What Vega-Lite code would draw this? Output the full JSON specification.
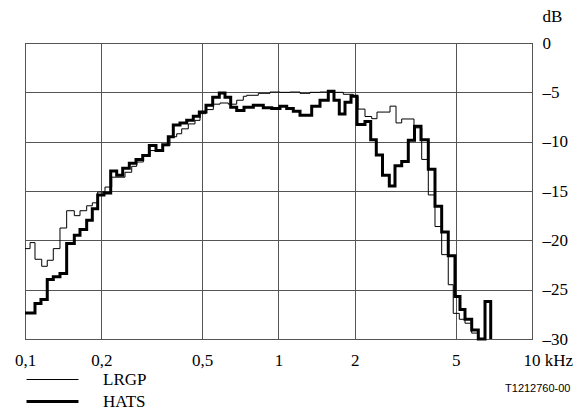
{
  "$schema": "https://vega.github.io/schema/vega-lite/v6.json",
  "width": 507,
  "height": 296,
  "autosize": "none",
  "padding": {"left": 25, "top": 43, "right": 41, "bottom": 75},
  "background": "white",
  "config": {
    "view": {"stroke": "black", "strokeWidth": 1},
    "font": "Liberation Serif, serif"
  },
  "data": {
    "values": [
      {"s": "LRGP", "f": 0.1, "db": -20.84},
      {"s": "LRGP", "f": 0.1047, "db": -20.23},
      {"s": "LRGP", "f": 0.1095, "db": -21.92},
      {"s": "LRGP", "f": 0.1164, "db": -22.63},
      {"s": "LRGP", "f": 0.1224, "db": -22.02},
      {"s": "LRGP", "f": 0.1293, "db": -20.84},
      {"s": "LRGP", "f": 0.1374, "db": -18.75},
      {"s": "LRGP", "f": 0.146, "db": -17.0},
      {"s": "LRGP", "f": 0.1565, "db": -17.5},
      {"s": "LRGP", "f": 0.1648, "db": -17.0},
      {"s": "LRGP", "f": 0.1751, "db": -16.5},
      {"s": "LRGP", "f": 0.1843, "db": -16.2},
      {"s": "LRGP", "f": 0.1935, "db": -15.1},
      {"s": "LRGP", "f": 0.2068, "db": -14.6},
      {"s": "LRGP", "f": 0.2198, "db": -13.6},
      {"s": "LRGP", "f": 0.248, "db": -13.1},
      {"s": "LRGP", "f": 0.2636, "db": -12.5},
      {"s": "LRGP", "f": 0.2758, "db": -12.06},
      {"s": "LRGP", "f": 0.2929, "db": -11.4},
      {"s": "LRGP", "f": 0.3112, "db": -10.9},
      {"s": "LRGP", "f": 0.3512, "db": -10.4},
      {"s": "LRGP", "f": 0.3732, "db": -9.5},
      {"s": "LRGP", "f": 0.3966, "db": -9.2},
      {"s": "LRGP", "f": 0.4151, "db": -8.7},
      {"s": "LRGP", "f": 0.4407, "db": -8.2},
      {"s": "LRGP", "f": 0.4684, "db": -7.84},
      {"s": "LRGP", "f": 0.4902, "db": -7.16},
      {"s": "LRGP", "f": 0.5176, "db": -6.75},
      {"s": "LRGP", "f": 0.5531, "db": -6.2},
      {"s": "LRGP", "f": 0.5879, "db": -6.08},
      {"s": "LRGP", "f": 0.6339, "db": -6.2},
      {"s": "LRGP", "f": 0.6841, "db": -5.8},
      {"s": "LRGP", "f": 0.7264, "db": -5.4},
      {"s": "LRGP", "f": 0.7492, "db": -5.3},
      {"s": "LRGP", "f": 0.8324, "db": -5.1},
      {"s": "LRGP", "f": 0.9256, "db": -4.97},
      {"s": "LRGP", "f": 1.0137, "db": -5.0},
      {"s": "LRGP", "f": 1.11, "db": -4.97},
      {"s": "LRGP", "f": 1.2157, "db": -5.1},
      {"s": "LRGP", "f": 1.3313, "db": -5.0},
      {"s": "LRGP", "f": 1.4578, "db": -4.97},
      {"s": "LRGP", "f": 1.5964, "db": -5.0},
      {"s": "LRGP", "f": 1.8013, "db": -5.2},
      {"s": "LRGP", "f": 1.9726, "db": -5.4},
      {"s": "LRGP", "f": 2.0587, "db": -6.7},
      {"s": "LRGP", "f": 2.1937, "db": -7.45},
      {"s": "LRGP", "f": 2.3311, "db": -7.67},
      {"s": "LRGP", "f": 2.4463, "db": -7.0},
      {"s": "LRGP", "f": 2.7538, "db": -6.4},
      {"s": "LRGP", "f": 2.9081, "db": -8.1},
      {"s": "LRGP", "f": 3.062, "db": -7.7},
      {"s": "LRGP", "f": 3.4235, "db": -8.6},
      {"s": "LRGP", "f": 3.6723, "db": -11.8},
      {"s": "LRGP", "f": 3.899, "db": -15.4},
      {"s": "LRGP", "f": 4.143, "db": -18.6},
      {"s": "LRGP", "f": 4.4025, "db": -21.45},
      {"s": "LRGP", "f": 4.6736, "db": -24.5},
      {"s": "LRGP", "f": 4.8904, "db": -27.4},
      {"s": "LRGP", "f": 5.167, "db": -28.0},
      {"s": "LRGP", "f": 5.441, "db": -28.4},
      {"s": "LRGP", "f": 5.783, "db": -29.4},
      {"s": "LRGP", "f": 6.14, "db": -30},
      {"s": "HATS", "f": 0.1, "db": -27.36},
      {"s": "HATS", "f": 0.1095, "db": -26.4},
      {"s": "HATS", "f": 0.1156, "db": -26.0},
      {"s": "HATS", "f": 0.1224, "db": -23.98},
      {"s": "HATS", "f": 0.1293, "db": -23.7},
      {"s": "HATS", "f": 0.1374, "db": -23.37},
      {"s": "HATS", "f": 0.146, "db": -20.33},
      {"s": "HATS", "f": 0.1565, "db": -19.49},
      {"s": "HATS", "f": 0.1648, "db": -18.9},
      {"s": "HATS", "f": 0.1751, "db": -17.97},
      {"s": "HATS", "f": 0.1843, "db": -16.8},
      {"s": "HATS", "f": 0.1935, "db": -15.4},
      {"s": "HATS", "f": 0.2049, "db": -15.2},
      {"s": "HATS", "f": 0.2178, "db": -12.97},
      {"s": "HATS", "f": 0.23, "db": -13.4},
      {"s": "HATS", "f": 0.2429, "db": -12.7},
      {"s": "HATS", "f": 0.2579, "db": -12.2},
      {"s": "HATS", "f": 0.2741, "db": -11.8},
      {"s": "HATS", "f": 0.2913, "db": -11.4},
      {"s": "HATS", "f": 0.3093, "db": -10.4},
      {"s": "HATS", "f": 0.3287, "db": -10.9},
      {"s": "HATS", "f": 0.3493, "db": -10.3},
      {"s": "HATS", "f": 0.3675, "db": -9.5},
      {"s": "HATS", "f": 0.3846, "db": -8.3},
      {"s": "HATS", "f": 0.4087, "db": -8.1},
      {"s": "HATS", "f": 0.4344, "db": -7.84},
      {"s": "HATS", "f": 0.4612, "db": -7.43},
      {"s": "HATS", "f": 0.4871, "db": -7.0},
      {"s": "HATS", "f": 0.5176, "db": -6.3},
      {"s": "HATS", "f": 0.5501, "db": -5.5},
      {"s": "HATS", "f": 0.584, "db": -5.07},
      {"s": "HATS", "f": 0.6151, "db": -5.5},
      {"s": "HATS", "f": 0.6478, "db": -6.5},
      {"s": "HATS", "f": 0.6841, "db": -6.85},
      {"s": "HATS", "f": 0.731, "db": -6.5},
      {"s": "HATS", "f": 0.7954, "db": -6.3},
      {"s": "HATS", "f": 0.8711, "db": -6.55},
      {"s": "HATS", "f": 0.9402, "db": -6.65},
      {"s": "HATS", "f": 1.0137, "db": -6.4},
      {"s": "HATS", "f": 1.0774, "db": -6.65},
      {"s": "HATS", "f": 1.144, "db": -6.92},
      {"s": "HATS", "f": 1.2157, "db": -7.33},
      {"s": "HATS", "f": 1.352, "db": -6.4},
      {"s": "HATS", "f": 1.4578, "db": -5.8},
      {"s": "HATS", "f": 1.5719, "db": -4.9},
      {"s": "HATS", "f": 1.6554, "db": -5.8},
      {"s": "HATS", "f": 1.737, "db": -7.2},
      {"s": "HATS", "f": 1.8297, "db": -6.0},
      {"s": "HATS", "f": 1.9322, "db": -5.4},
      {"s": "HATS", "f": 2.0404, "db": -8.25},
      {"s": "HATS", "f": 2.1937, "db": -7.95},
      {"s": "HATS", "f": 2.3106, "db": -9.8},
      {"s": "HATS", "f": 2.431, "db": -11.35},
      {"s": "HATS", "f": 2.5719, "db": -13.4},
      {"s": "HATS", "f": 2.7357, "db": -14.5},
      {"s": "HATS", "f": 2.881, "db": -12.45},
      {"s": "HATS", "f": 3.062, "db": -12.0},
      {"s": "HATS", "f": 3.251, "db": -9.86},
      {"s": "HATS", "f": 3.4393, "db": -8.45},
      {"s": "HATS", "f": 3.6484, "db": -9.8},
      {"s": "HATS", "f": 3.899, "db": -12.8},
      {"s": "HATS", "f": 4.143, "db": -16.55},
      {"s": "HATS", "f": 4.4025, "db": -19.15},
      {"s": "HATS", "f": 4.6736, "db": -21.55},
      {"s": "HATS", "f": 4.968, "db": -25.7},
      {"s": "HATS", "f": 5.199, "db": -27.0},
      {"s": "HATS", "f": 5.441, "db": -28.0},
      {"s": "HATS", "f": 5.783, "db": -29.1},
      {"s": "HATS", "f": 6.14, "db": -30},
      {"s": "HATS", "f": 6.526, "db": -26.2},
      {"s": "HATS", "f": 6.872, "db": -30}
    ]
  },
  "mark": {"type": "line", "interpolate": "step-after", "color": "black", "strokeJoin": "miter", "strokeCap": "butt"},
  "encoding": {
    "x": {
      "field": "f",
      "type": "quantitative",
      "scale": {"type": "log", "domain": [0.1, 10]},
      "axis": {
        "values": [0.1, 0.2, 0.5, 1, 2, 5, 10],
        "labelExpr": "datum.value == 10 ? '10 kHz' : replace('' + datum.value, '.', ',')",
        "labelAlign": {"condition": {"test": "datum.value == 10", "value": "left"}, "value": "center"},
        "labelOffset": {"condition": {"test": "datum.value == 10", "value": -9}, "value": 0},
        "title": "T1212760-00",
        "titleX": 545,
        "titleY": 49,
        "titleAlign": "right",
        "titleAnchor": null,
        "titleBaseline": "middle",
        "titleFont": "Liberation Sans, Arial, sans-serif",
        "titleFontSize": 11,
        "titleFontWeight": "normal",
        "titleColor": "black",
        "ticks": false,
        "domain": false,
        "grid": true,
        "gridColor": "#555",
        "gridOpacity": 1,
        "labelFont": "Liberation Serif, serif",
        "labelFontSize": 17,
        "labelColor": "black",
        "labelPadding": 13,
        "labelFlush": false,
        "labelOverlap": false,
        "labelBound": false
      }
    },
    "y": {
      "field": "db",
      "type": "quantitative",
      "scale": {"domain": [-30, 0], "nice": false, "zero": false},
      "axis": {
        "orient": "right",
        "values": [0, -5, -10, -15, -20, -25, -30],
        "labelExpr": "datum.value == 0 ? '0' : '–' + abs(datum.value)",
        "title": "dB",
        "titleAngle": 0,
        "titleX": 10,
        "titleY": -27,
        "titleAlign": "left",
        "titleAnchor": null,
        "titleBaseline": "middle",
        "titleFont": "Liberation Serif, serif",
        "titleFontSize": 17,
        "titleFontWeight": "normal",
        "titleColor": "black",
        "ticks": false,
        "domain": false,
        "grid": true,
        "gridColor": "#555",
        "gridOpacity": 1,
        "labelFont": "Liberation Serif, serif",
        "labelFontSize": 17,
        "labelColor": "black",
        "labelAlign": "left",
        "labelBaseline": "middle",
        "labelPadding": 10,
        "labelFlush": false,
        "labelOverlap": false,
        "labelBound": false
      }
    },
    "strokeWidth": {
      "field": "s",
      "type": "nominal",
      "scale": {"type": "ordinal", "domain": ["LRGP", "HATS"], "range": [1, 3]},
      "legend": {
        "orient": "none",
        "legendX": 19,
        "legendY": 328,
        "title": null,
        "direction": "vertical",
        "symbolType": "M-5,0H5",
        "symbolSize": 108,
        "symbolStrokeColor": "black",
        "labelFont": "Liberation Serif, serif",
        "labelFontSize": 17,
        "labelColor": "black",
        "labelOffset": 42,
        "rowPadding": 4,
        "padding": 0
      }
    }
  }
}
